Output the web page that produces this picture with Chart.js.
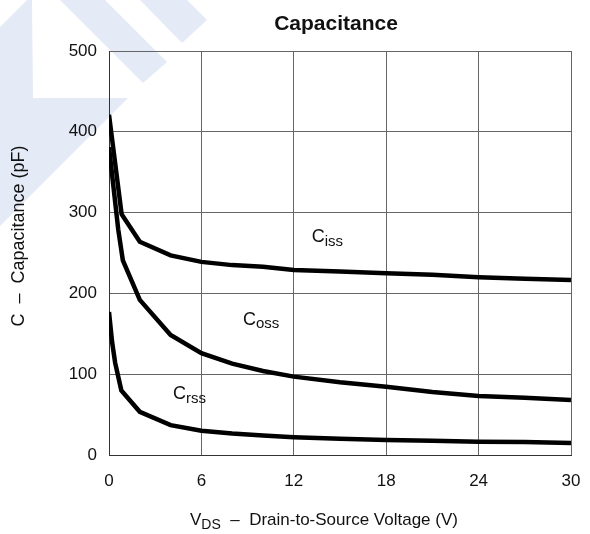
<!DOCTYPE html>
<html>
<head>
<meta charset="utf-8">
<script src="https://cdn.jsdelivr.net/npm/chart.js@4.4.1/dist/chart.umd.min.js"></script>
<style>
  html, body { margin: 0; padding: 0; background: #fff; }
  #wrap { width: 590px; height: 534px; }
</style>
</head>
<body>
<div id="wrap"><canvas id="capChart" width="590" height="534"></canvas></div>
<script>
// values
const cissX = [0, 0.82, 2, 4, 6, 8, 10, 12, 15, 18, 21, 24, 27, 30];
const cissY = [421, 298, 264, 247, 239, 235, 233, 229, 227, 225, 223, 220, 218, 216.5];

const cossX = [0, 0.3, 0.6, 0.9, 2, 4, 6, 8, 10, 12, 15, 18, 21, 24, 27, 30];
const cossY = [381, 330, 279, 241, 192, 148.5, 126, 113, 104, 97, 90, 84.5, 78, 73, 71, 68];

const crssX = [0, 0.2, 0.4, 0.8, 2, 4, 6, 8, 10, 12, 15, 18, 21, 24, 27, 30];
const crssY = [177, 140, 114, 80, 53.5, 37, 30, 26.5, 24, 22, 20, 18.5, 17.5, 16.5, 16, 15];

const xTicks = [0, 6, 12, 18, 24, 30];
const yTicks = [0, 100, 200, 300, 400, 500];

// where the curve names sit (data units)
const seriesNames = ['iss', 'oss', 'rss'];
const nameX = [13.16, 8.7, 4.16];
const nameY = [263.6, 160.9, 69.3];

const FONT = '"Liberation Sans", Arial, sans-serif';

function toPoints(xs, ys) {
    return xs.map((x, i) => ({ x: x, y: ys[i] }));
}

// light blue watermark in the top left corner
const watermark = {
    id: 'watermark',
    beforeDraw(chart) {
        const ctx = chart.ctx;
        ctx.save();
        ctx.fillStyle = '#e4eaf6';
        const shapes = [
            [[0, 27], [27, 0], [32, 0], [33, 98], [128, 98], [0, 226]],
            [[60, 0], [105, 0], [167, 62], [143, 83]],
            [[140, 0], [187, 0], [207, 20], [182, 43]]
        ];
        shapes.forEach(s => {
            ctx.beginPath();
            ctx.moveTo(s[0][0], s[0][1]);
            for (let i = 1; i < s.length; i++) ctx.lineTo(s[i][0], s[i][1]);
            ctx.closePath();
            ctx.fill();
        });
        ctx.restore();
    }
};

// draws text runs, some of them as subscripts
function drawRuns(ctx, x, y, runs) {
    let cx = x;
    runs.forEach(r => {
        ctx.font = (r.bold ? 'bold ' : '') + r.size + 'px ' + FONT;
        ctx.fillText(r.t, cx, y + (r.dy || 0));
        cx += ctx.measureText(r.t).width;
    });
}

const texts = {
    id: 'texts',
    afterDraw(chart) {
        const ctx = chart.ctx;
        const xs = chart.scales.x, ys = chart.scales.y;
        ctx.save();
        ctx.fillStyle = '#111';
        ctx.textBaseline = 'alphabetic';

        // title
        ctx.textAlign = 'center';
        ctx.font = 'bold 21px ' + FONT;
        ctx.fillText('Capacitance', 336, 30);

        // y axis title
        ctx.save();
        ctx.translate(24, 236);
        ctx.rotate(-Math.PI / 2);
        ctx.font = '18px ' + FONT;
        ctx.fillText('C  –  Capacitance (pF)', 0, 0);
        ctx.restore();

        // x axis title
        ctx.textAlign = 'left';
        drawRuns(ctx, 190, 525, [
            { t: 'V', size: 17 },
            { t: 'DS', size: 14, dy: 4 },
            { t: '  –  Drain-to-Source Voltage (V)', size: 17 }
        ]);

        // curve names
        seriesNames.forEach((n, i) => {
            const px = xs.getPixelForValue(nameX[i]);
            const py = ys.getPixelForValue(nameY[i]);
            drawRuns(ctx, px, py, [
                { t: 'C', size: 18 },
                { t: n, size: 15, dy: 3.5 }
            ]);
        });
        ctx.restore();
    }
};

const lineStyle = {
    borderColor: '#000',
    borderWidth: 4.5,
    pointRadius: 0,
    tension: 0,
    fill: false
};

const data = {
    datasets: [
        Object.assign({ label: 'Ciss', data: toPoints(cissX, cissY) }, lineStyle),
        Object.assign({ label: 'Coss', data: toPoints(cossX, cossY) }, lineStyle),
        Object.assign({ label: 'Crss', data: toPoints(crssX, crssY) }, lineStyle)
    ]
};

const config = {
    type: 'line',
    data,
    options: {
        responsive: false,
        animation: false,
        layout: { padding: { top: 51, right: 19, left: 0, bottom: 0 } },
        plugins: {
            legend: { display: false },
            tooltip: { enabled: false }
        },
        scales: {
            x: {
                type: 'linear',
                min: 0,
                max: 30,
                afterFit(scale) {
                    scale.height = 79;
                    scale.paddingLeft = 0;
                    scale.paddingRight = 0;
                },
                afterBuildTicks(scale) { scale.ticks = xTicks.map(v => ({ value: v })); },
                grid: { color: '#666', lineWidth: 1, drawTicks: false },
                border: { color: '#333', width: 1 },
                ticks: { color: '#111', padding: 16, font: { family: FONT, size: 17 } }
            },
            y: {
                min: 0,
                max: 500,
                afterFit(scale) {
                    scale.width = 109;
                    scale.paddingTop = 0;
                    scale.paddingBottom = 0;
                },
                afterBuildTicks(scale) { scale.ticks = yTicks.map(v => ({ value: v })); },
                grid: { color: '#666', lineWidth: 1, drawTicks: false },
                border: { color: '#333', width: 1 },
                ticks: { color: '#111', padding: 12, font: { family: FONT, size: 17 } }
            }
        }
    },
    plugins: [watermark, texts]
};

const myChart = new Chart(document.getElementById('capChart'), config);
</script>
</body>
</html>
